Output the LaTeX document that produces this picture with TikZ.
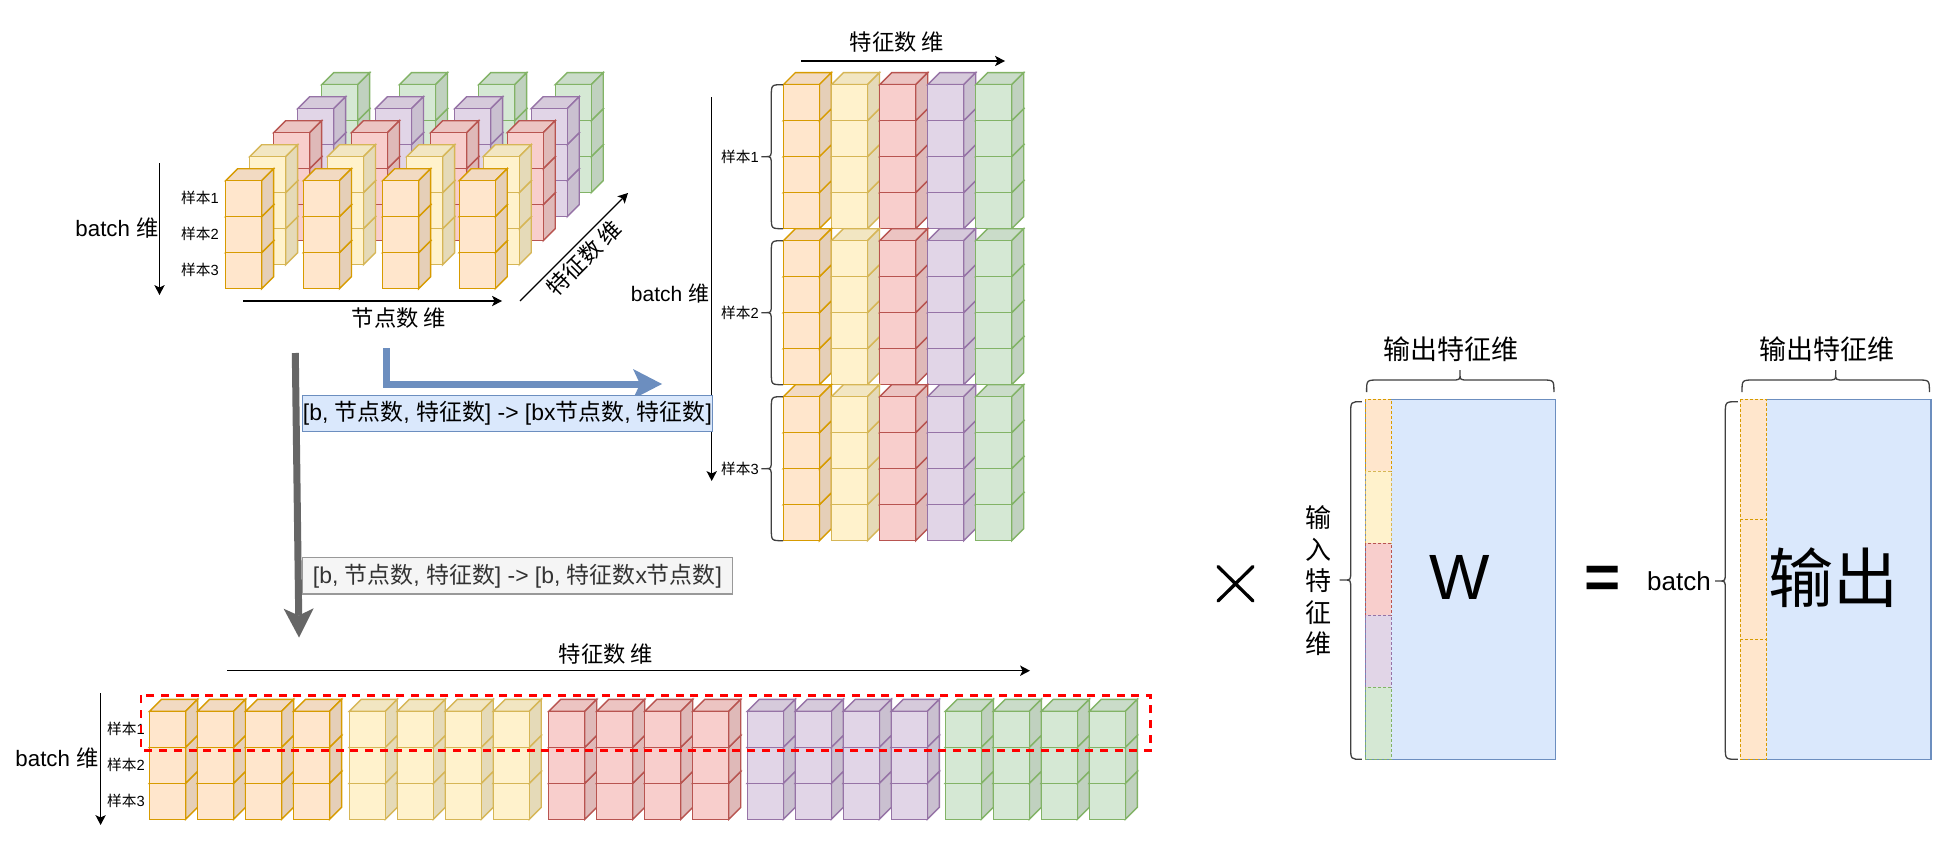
\documentclass[tikz,border=0pt]{standalone}
\usepackage{fontspec}
\usetikzlibrary{arrows.meta}
\setmainfont{Liberation Sans}
\newfontfamily\cjk{Noto Sans CJK SC}
\newcommand\zh[1]{{\cjk #1}}
\newcommand\fs[1]{\fontsize{#1}{#1}\selectfont}
\definecolor{oF}{HTML}{FFE6CC}\definecolor{oL}{HTML}{D79B00}
\definecolor{yF}{HTML}{FFF2CC}\definecolor{yL}{HTML}{D6B656}
\definecolor{rF}{HTML}{F8CECC}\definecolor{rL}{HTML}{B85450}
\definecolor{pF}{HTML}{E1D5E7}\definecolor{pL}{HTML}{9673A6}
\definecolor{gF}{HTML}{D5E8D4}\definecolor{gL}{HTML}{82B366}
\definecolor{bF}{HTML}{DAE8FC}\definecolor{bL}{HTML}{6C8EBF}
\definecolor{dL}{HTML}{666666}
\newcommand\cubeat[3]{%
  \filldraw[cubeline,draw=#3L,fill=#3F!95!black] (#1,#2)--++(12,-12)--++(36,0)--++(-12,12)--cycle;
  \filldraw[cubeline,draw=#3L,fill=#3F!90!black] (#1+36,#2)--++(12,-12)--++(0,36)--++(-12,12)--cycle;
  \filldraw[cubeline,draw=#3L,fill=#3F] (#1,#2) rectangle ++(36,36);}
\newcommand\stackat[4]{%
  \pgfmathtruncatemacro\last{#3-1}%
  \foreach \k in {\last,...,0}{\pgfmathsetmacro\yy{#2+36*\k}\cubeat{#1}{\yy}{#4}}}
% vertical curly bracket: xright xmid xtip y1 ytip y2
\newcommand\vbrace[6]{\draw[brace] (#1,#4) .. controls (#2,#4) .. (#2,#4+12) -- (#2,#5-9) .. controls (#2,#5) .. (#2-6,#5) -- (#3,#5) -- (#2-6,#5) .. controls (#2,#5) .. (#2,#5+9) -- (#2,#6-12) .. controls (#2,#6) .. (#1,#6);}
% horizontal curly bracket: ybottom ymid ytip x1 xtip x2
\newcommand\hbrace[6]{\draw[brace] (#4,#1) .. controls (#4,#2) .. (#4+12,#2) -- (#5-9,#2) .. controls (#5,#2) .. (#5,#2-6) -- (#5,#3) -- (#5,#2-6) .. controls (#5,#2) .. (#5+9,#2) -- (#6-12,#2) .. controls (#6,#2) .. (#6,#1);}
\tikzset{
  cubeline/.style={line width=1.4pt,line join=miter},
  brace/.style={line width=1.3pt,draw=black!75},
  thin arrow/.style={line width=1.2pt,-{Stealth[length=10pt,width=10.5pt,inset=2.5pt,line width=0pt]}},
  big arrow/.style={line width=7pt,-{Stealth[length=29pt,width=30pt,inset=7pt,line width=0pt]}},
  txt/.style={inner sep=0pt,outer sep=0pt,anchor=center},
  sample/.style={txt,font=\fs{14.7}},
  axis/.style={txt,font=\fs{22.3}},
  wlabel/.style={txt,font=\fs{27}},
  strip/.style={line width=1pt,dash pattern=on 3pt off 2pt},
}
\begin{document}
\begin{tikzpicture}[x=1pt,y=-1pt]
\useasboundingbox (0,0) rectangle (1955,867);
\fill[white] (0,0) rectangle (1955,867);

% --- 3D block, top left
\foreach \c/\off in {g/96,p/72,r/48,y/24,o/0}
  \foreach \xx in {225.6,303.5,382.6,459.2}
    {\stackat{\xx+\off}{180.7-\off}{3}{\c}}
\node[sample] (a1) at (200,198) {\zh{样本}1};
\node[sample] (a2) at (200,234) {\zh{样本}2};
\node[sample] (a3) at (200,270) {\zh{样本}3};
\node[axis] (abatch) at (117,228) {batch \zh{维}};
\coordinate (ab1) at (159.5,163); \coordinate (ab2) at (159.5,295);
\draw[thin arrow] (ab1) -- (ab2);
\coordinate (an1) at (243,301); \coordinate (an2) at (502,301);
\draw[thin arrow] (an1) -- (an2);
\node[axis] (anode) at (399,318) {\zh{节点数 维}};
\coordinate (af1) at (520,301); \coordinate (af2) at (628,193);
\draw[thin arrow] (af1) -- (af2);
\node[axis,rotate=45] (afeat) at (584,258) {\zh{特征数 维}};

% --- right stacks
\foreach \yy/\n in {84.7/1,240.7/2,396.7/3}{
  \foreach \c/\xx in {o/783.3,y/831.5,r/879.7,p/927.7,g/975.7}
    {\stackat{\xx}{\yy}{4}{\c}}
  \pgfmathsetmacro\yb{\yy+144}\pgfmathsetmacro\yt{\yy+72}
  \vbrace{783}{771.3}{761.3}{\yy}{\yt}{\yb}
  \node[sample] (b\n) at (740,\yt) {\zh{样本}\n};
}
\coordinate (bf1) at (801,61); \coordinate (bf2) at (1005,61);
\draw[thin arrow] (bf1) -- (bf2);
\node[axis] (bfeat) at (897,42) {\zh{特征数 维}};
\coordinate (bb1) at (711.7,97); \coordinate (bb2) at (711.7,481);
\draw[thin arrow] (bb1) -- (bb2);
\node[txt,font=\fs{21}] (bbatch) at (670,294) {batch \zh{维}};

% --- big arrows and their captions
\coordinate (ba1) at (386.7,348); \coordinate (ba2) at (386.7,384); \coordinate (ba3) at (662,384);
\draw[big arrow,draw=bL] (ba1) -- (ba2) -- (ba3);
\coordinate (ga1) at (295.3,353); \coordinate (ga2) at (299,637.5);
\draw[big arrow,draw=dL] (ga1) -- (ga2);
\node[txt,draw=bL,fill=bF,line width=1.3pt,minimum width=410pt,minimum height=36.4pt,font=\fs{22.9}] (capb) at (507.5,413.5)
  {[b, \zh{节点数}, \zh{特征数}] -> [bx\zh{节点数}, \zh{特征数}]};
\node[txt,draw=black!40,fill=black!4,line width=1.3pt,minimum width=430pt,minimum height=36.4pt,text=black!80,font=\fs{22.9}] (capg) at (517.5,575.8)
  {[b, \zh{节点数}, \zh{特征数}] -> [b, \zh{特征数}x\zh{节点数}]};

% --- bottom row
\foreach \c/\g in {o/149.6,y/349.2,r/548.7,p/747.3,g/945.3}
  \foreach \i in {0,1,2,3}
    {\pgfmathsetmacro\xx{\g+48*\i}\stackat{\xx}{711.3}{3}{\c}}
\coordinate (cf1) at (227,670.7); \coordinate (cf2) at (1030,670.7);
\draw[thin arrow] (cf1) -- (cf2);
\node[axis] (cfeat) at (606,654) {\zh{特征数 维}};
\coordinate (cb1) at (100.6,693); \coordinate (cb2) at (100.6,825);
\draw[thin arrow] (cb1) -- (cb2);
\node[axis] (cbatch) at (57,758) {batch \zh{维}};
\node[sample] (c1) at (126,729) {\zh{样本}1};
\node[sample] (c2) at (126,765) {\zh{样本}2};
\node[sample] (c3) at (126,801) {\zh{样本}3};
\draw[red,line width=2.7pt,dash pattern=on 8pt off 6.7pt] (141,695.3) rectangle (1150.7,750.7);

% --- multiplication sign
\coordinate (xa) at (1218,566.5); \coordinate (xb) at (1253,601);
\coordinate (xc) at (1253,566.5); \coordinate (xd) at (1218,601);
\draw[line width=3.3pt,line cap=round] (xa) -- (xb) (xc) -- (xd);

% --- matrix W
\fill[bF] (1365.6,399.3) rectangle (1555.3,759.3);
\draw[bL,line width=1.3pt] (1365.6,399.3) rectangle (1555.3,759.3);
\foreach \c/\a/\b in {o/399.3/471.3,y/471.3/543.3,r/543.3/615.3,p/615.3/687.3,g/687.3/759.3}
  \filldraw[strip,draw=\c L,fill=\c F] (1365.6,\a) rectangle (1391.1,\b);
\node[txt,font=\fs{64}] (w) at (1460,577.7) {W};
\hbrace{392}{380}{370}{1366.6}{1460}{1553.9}
\node[wlabel] (wtop) at (1451.3,349) {\zh{输出特征维}};
\vbrace{1361.8}{1350.7}{1339.6}{401.7}{580}{759.3}
\node[txt,align=center,font=\fs{26}\cjk] (wleft) at (1318,581) {输\\[5.5pt]入\\[5.5pt]特\\[5.5pt]征\\[5.5pt]维};

\node[txt,font=\bfseries\fs{62}] (eq) at (1603,582) {=};

% --- output matrix
\fill[bF] (1740.2,399.3) rectangle (1930.9,759.3);
\draw[bL,line width=1.3pt] (1740.2,399.3) rectangle (1930.9,759.3);
\foreach \a/\b in {399.3/519.3,519.3/639.3,639.3/759.3}
  \filldraw[strip,draw=oL,fill=oF] (1740.2,\a) rectangle (1766.7,\b);
\node[txt,font=\fs{65}] (out) at (1833,578) {\zh{输出}};
\hbrace{392}{380}{370}{1742}{1835.7}{1929.4}
\node[wlabel] (otop) at (1827,349) {\zh{输出特征维}};
\vbrace{1737.8}{1725.3}{1715.2}{401.7}{581}{759.3}
\node[txt,font=\fs{26}] (obatch) at (1679,581) {batch};
\end{tikzpicture}
\end{document}
